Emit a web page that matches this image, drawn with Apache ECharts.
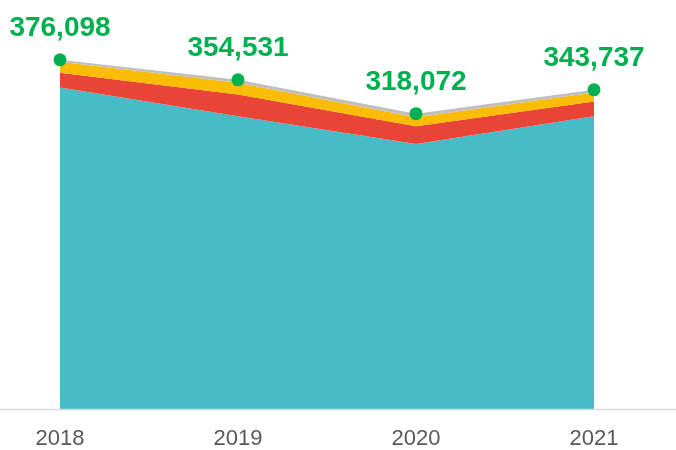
<!DOCTYPE html>
<html>
<head>
<meta charset="utf-8">
<script src="https://cdn.jsdelivr.net/npm/echarts@6/dist/echarts.min.js"></script>
<style>
  html, body { margin: 0; padding: 0; background: #fff; }
  #main { width: 676px; height: 450px; }
</style>
</head>
<body>
<div id="main"></div>
<script>
// years and stacked layers
const years = ["2018", "2019", "2020", "2021"];
const tealVals = [346200, 315200, 285300, 315200];
const redVals = [16000, 23500, 19200, 16000];
const yellowVals = [11750, 12800, 9600, 9600];
const grayVals = [2148, 3031, 3972, 2937];
const totals = [376098, 354531, 318072, 343737];

const FONT = "'Liberation Sans', Arial, sans-serif";

const myChart = echarts.init(document.getElementById("main"));

function layer(name, data, color) {
  return {
    name: name,
    type: "line",
    stack: "total",
    data: data,
    symbol: "none",
    lineStyle: { width: 0 },
    areaStyle: { color: color, opacity: 1 },
    silent: true,
  };
}

myChart.setOption({
  animation: false,
  grid: { left: 60, right: 82, top: 37.6, bottom: 38 },
  xAxis: {
    type: "category",
    data: years,
    boundaryGap: false,
    axisLine: { show: false },
    axisTick: { show: false },
    axisLabel: {
      color: "#595959",
      fontSize: 22,
      fontFamily: FONT,
      margin: 19,
    },
  },
  yAxis: {
    type: "value",
    min: 0,
    max: 400000,
    show: false,
  },
  series: [
    layer("teal", tealVals, "#47BBC6"),
    layer("red", redVals, "#E94537"),
    layer("yellow", yellowVals, "#FBBC05"),
    layer("gray", grayVals, "#BFBFBF"),
    {
      name: "total",
      type: "line",
      data: totals,
      symbol: "circle",
      symbolSize: 13,
      lineStyle: { opacity: 0 },
      itemStyle: { color: "#00B050" },
      label: {
        show: true,
        position: "top",
        distance: 11,
        color: "#00B050",
        fontSize: 28,
        fontWeight: "bold",
        fontFamily: FONT,
        formatter: (p) => p.value.toLocaleString("en-US"),
      },
      z: 5,
    },
  ],
});

// axis line runs across the whole width
const baseY = myChart.convertToPixel({ yAxisIndex: 0 }, 0);
myChart.setOption({
  graphic: [
    {
      type: "line",
      shape: { x1: 0, y1: baseY + 0.5, x2: 676, y2: baseY + 0.5 },
      style: { stroke: "#D9D9D9", lineWidth: 1.5 },
      z: 10,
    },
  ],
});
</script>
</body>
</html>
